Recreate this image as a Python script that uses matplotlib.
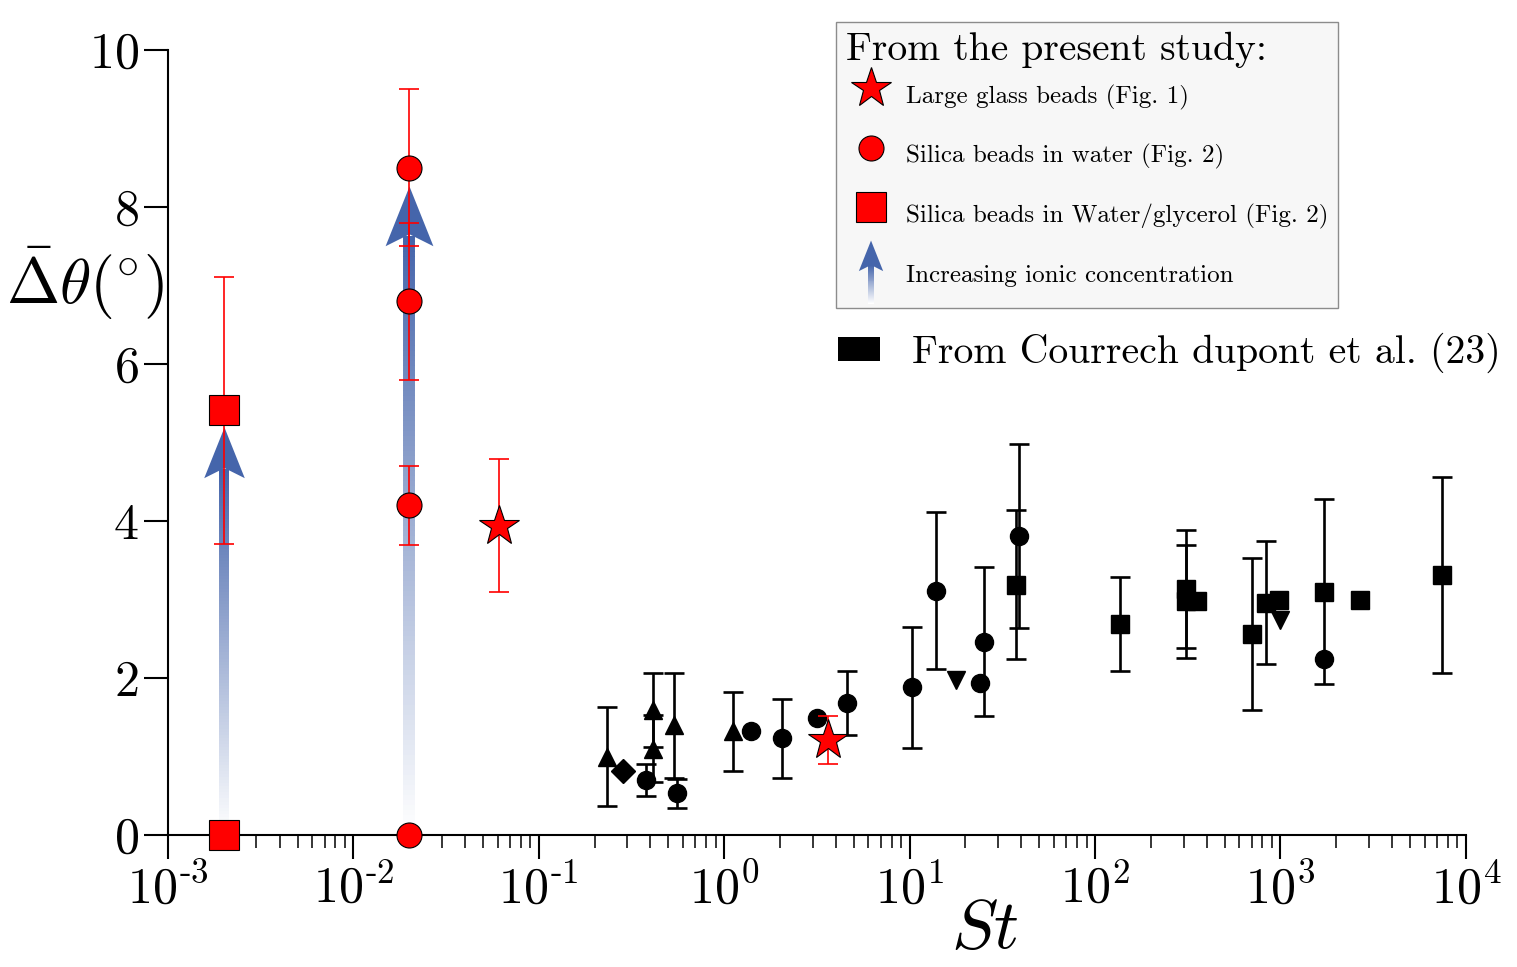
import numpy as np
import matplotlib
matplotlib.use("Agg")
import matplotlib.pyplot as plt
from matplotlib.path import Path
from matplotlib.lines import Line2D
from matplotlib.patches import Patch, Rectangle, Polygon
from matplotlib.legend_handler import HandlerBase
from matplotlib.ticker import FuncFormatter, NullFormatter
from matplotlib.colors import to_rgb

plt.rcParams["font.family"] = "cmr10"
plt.rcParams["mathtext.fontset"] = "cm"
plt.rcParams["axes.formatter.use_mathtext"] = True

RED = "#ff0000"
ARROW_BLUE = "#4565ab"

# ---------------------------------------------------------------- present study
sq_x = [2.0e-3, 2.0e-3]
sq_y = [5.41, 0.0]
sq_err = [1.7, 0.0]

circ_x = [0.02, 0.02, 0.02, 0.02]
circ_y = [8.5, 6.8, 4.2, 0.0]
circ_err = [1.0, 1.0, 0.5, 0.0]

star_x = [0.061, 3.62]
star_y = [3.94, 1.21]
star_err = [0.85, 0.30]

# ionic-concentration arrows (x position, tip value)
arrow_x = [2.0e-3, 0.02]
arrow_tip = [5.2, 8.27]

# ------------------------------------------------------ Courrech du Pont et al.
cd_x = [0.232, 0.283, 0.378, 0.414, 0.414, 0.536, 0.558, 1.11, 1.40, 2.05,
        3.17, 4.60, 10.3, 13.9, 17.8, 24.0, 25.2, 37.4, 38.7, 136,
        308, 308, 356, 704, 832, 980, 1000, 1714, 1714, 2680, 7480]
cd_y = [1.00, 0.82, 0.70, 1.59, 1.10, 1.40, 0.53, 1.32, 1.32, 1.23,
        1.49, 1.68, 1.88, 3.11, 1.98, 1.94, 2.46, 3.19, 3.81, 2.69,
        3.13, 2.98, 2.98, 2.56, 2.96, 2.99, 2.74, 3.10, 2.24, 2.99, 3.31]
cd_err = [0.63, 0, 0.20, 0.47, 0.43, 0.67, 0.18, 0.50, 0, 0.50,
          0, 0.41, 0.77, 1.0, 0, 0, 0.95, 0.95, 1.17, 0.60,
          0.75, 0.72, 0, 0.97, 0.78, 0, 0, 1.18, 0, 0, 1.25]
cd_marker = ["^", "D", "o", "^", "^", "^", "o", "^", "o", "o",
             "o", "o", "o", "o", "v", "o", "o", "s", "o", "s",
             "s", "s", "s", "s", "s", "s", "v", "s", "o", "s", "s"]

# arrowhead marker: tip at the marker origin
HEAD = Path([(0, 0), (0.4, -1), (0, -0.8), (-0.4, -1), (0, 0)],
            [Path.MOVETO, Path.LINETO, Path.LINETO, Path.LINETO, Path.CLOSEPOLY])


def ramp(n):
    blue = np.array(to_rgb(ARROW_BLUE))
    t = np.linspace(0, 1, n)[:, None]
    return (1 - t) * np.ones(3) + t * blue


def decade(v, _):
    e = int(round(np.log10(v)))
    if e < 0:
        return r"$10^{\text{-}%d}$" % -e
    return r"$10^{%d}$" % e


fig = plt.figure(figsize=(15.17, 9.67), dpi=100)
ax = fig.add_axes([0.1107, 0.1365, 0.8556, 0.8118])
ax.set_xscale("log")
ax.set_xlim(1e-3, 1e4)
ax.set_ylim(0, 10)

# gradient arrows
px_per_unit = ax.bbox.height / 10.0
for x, tip, ms, lw in zip(arrow_x, arrow_tip, [73, 86], [7.2, 8.6]):
    head_units = 0.5 * ms * fig.dpi / 72 / px_per_unit
    top = tip - 0.85 * head_units
    n = 120
    edges = np.linspace(0, top, n + 1)
    ax.vlines(np.full(n, x), edges[:-1], edges[1:] + 0.01, colors=ramp(n),
              linewidth=lw, zorder=1)
    ax.plot([x], [tip], marker=HEAD, ms=ms, color=ARROW_BLUE, mec="none",
            linestyle="none", zorder=1.5)

# Courrech du Pont data
cd_x_a, cd_y_a, cd_err_a = map(np.array, (cd_x, cd_y, cd_err))
has_err = cd_err_a > 0
ax.errorbar(cd_x_a[has_err], cd_y_a[has_err], yerr=cd_err_a[has_err], fmt="none",
            ecolor="black", elinewidth=1.9, capsize=7, capthick=1.9, zorder=2)
for m in ["o", "s", "^", "v", "D"]:
    sel = np.array(cd_marker) == m
    ax.plot(cd_x_a[sel], cd_y_a[sel], m, color="black",
            ms=12.5 if m == "D" else 13, zorder=3)

# present study
red_sets = [(sq_x, sq_y, sq_err, "s", 22), (circ_x, circ_y, circ_err, "o", 18),
            (star_x, star_y, star_err, "*", 30)]
for xs, ys, es, m, ms in red_sets:
    xs, ys, es = map(np.array, (xs, ys, es))
    e = es > 0
    ax.errorbar(xs[e], ys[e], yerr=es[e], fmt="none", ecolor=RED, elinewidth=1.2,
                capsize=7.5, capthick=1.2, zorder=4)
    ax.plot(xs, ys, m, color=RED, mec="black", mew=0.8, ms=ms, zorder=5,
            clip_on=False)

# axes look
for s in ("top", "right"):
    ax.spines[s].set_visible(False)
for s in ("left", "bottom"):
    ax.spines[s].set_linewidth(1.5)
ax.set_yticks([0, 2, 4, 6, 8, 10])
ax.xaxis.set_major_formatter(FuncFormatter(decade))
ax.xaxis.set_minor_formatter(NullFormatter())
ax.tick_params(which="major", length=17, width=1.5, labelsize=36, pad=4)
ax.tick_params(which="minor", length=9, width=1.1)
ax.tick_params(axis="y", which="minor", left=False)

ax.set_xlabel("$St$", fontsize=50)
ax.xaxis.set_label_coords(0.629, -0.082)
ax.set_ylabel(r"$\bar{\Delta}\theta(^{\circ})$", fontsize=46, rotation=0,
              va="center", ha="center")
ax.yaxis.set_label_coords(-0.064, 0.703)


class ArrowProxy:
    pass


class GradientArrowHandler(HandlerBase):
    def create_artists(self, legend, orig_handle, xdescent, ydescent, width,
                       height, fontsize, trans):
        cx = width / 2 - xdescent
        cy = height / 2 - ydescent
        bottom, tip, head_h, head_w, shaft_w = cy - 21, cy + 24.5, 22, 17.5, 4.3
        n = 40
        edges = np.linspace(bottom, tip - 0.8 * head_h, n + 1)
        arts = []
        for i, c in enumerate(ramp(n)):
            arts.append(Rectangle((cx - shaft_w / 2, edges[i]), shaft_w,
                                  edges[i + 1] - edges[i] + 0.3, facecolor=c,
                                  edgecolor="none", transform=trans))
        arts.append(Polygon([(cx, tip), (cx + head_w / 2, tip - head_h),
                             (cx, tip - 0.8 * head_h), (cx - head_w / 2, tip - head_h)],
                            closed=True, facecolor=ARROW_BLUE, edgecolor="none",
                            transform=trans))
        return arts


handles = [
    Line2D([], [], marker="*", ls="none", color=RED, mec="black", mew=0.8, ms=30),
    Line2D([], [], marker="o", ls="none", color=RED, mec="black", mew=0.8, ms=18),
    Line2D([], [], marker="s", ls="none", color=RED, mec="black", mew=0.8, ms=22),
    ArrowProxy(),
]
labels = ["Large glass beads (Fig. 1)", "Silica beads in water (Fig. 2)",
          "Silica beads in Water/glycerol (Fig. 2)", "Increasing ionic concentration"]
leg = fig.legend(handles, labels, loc="upper left", bbox_to_anchor=(0.5511, 0.9772),
                 borderaxespad=0, title="From the present study:", title_fontsize=28.5,
                 fontsize=18, alignment="left", fancybox=False, framealpha=1,
                 facecolor="#f7f7f7", edgecolor="#8c8c8c", labelspacing=0.55,
                 handlelength=2.0, handleheight=2.45, handletextpad=0.4, borderpad=0.4,
                 handler_map={ArrowProxy: GradientArrowHandler()})
leg.get_frame().set_linewidth(1.0)
leg._legend_box.sep = 3

leg2 = fig.legend([Patch(facecolor="black")], ["From Courrech dupont et al. (23)"],
                  loc="upper left", bbox_to_anchor=(0.542, 0.672), borderaxespad=0,
                  fontsize=28.6, frameon=False, handlelength=1.06, handleheight=0.55,
                  handletextpad=0.8)

fig.savefig("out.png", dpi=100)
